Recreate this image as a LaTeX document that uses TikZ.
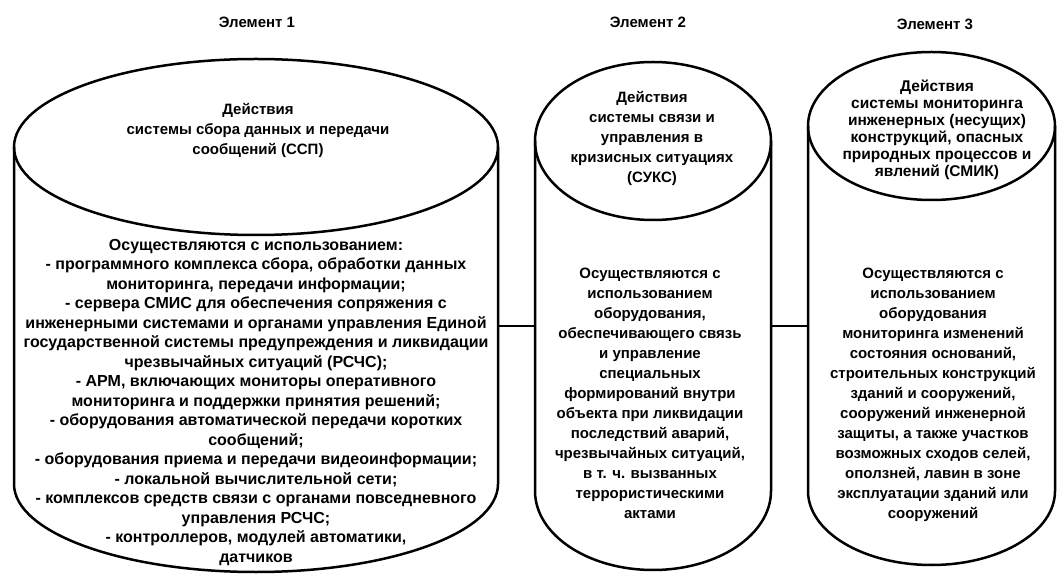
\documentclass[tikz,border=0pt]{standalone}
\usepackage{fontspec}
\setmainfont{Liberation Sans}
\usepackage{tikz}

\begin{document}
\begin{tikzpicture}[scale=0.35146]
\tikzstyle{every node}+=[inner sep=0pt, align=center, font=\bfseries\fontsize{15}{20}\selectfont]
\tikzstyle{cyl}=[black, line width=2.5pt]
\tikzstyle{link}=[black, line width=1.5pt]
\useasboundingbox (0,0) rectangle (105.7,-57.5);
% titles
\node (title1) at (25.7,-2.2) {Элемент 1};
\node (title2) at (64.8,-2.2) {Элемент 2};
\node (title3) at (93.5,-2.4) {Элемент 3};
% element 1
\draw [cyl] (25.6,-14.7) ellipse (24.2 and 8.8);
\draw [cyl] (1.4,-14.7) -- (1.4,-48.4) arc (180:360:24.2 and 8.8) -- (49.8,-14.7);
\coordinate (e1r) at (49.8,-32.6);
\node (top1) at (25.8,-13.0) {Действия\\системы сбора данных и передачи\\сообщений (ССП)};
\node (body1) at (25.6,-40.25) [font=\bfseries\fontsize{16}{19.5}\selectfont] {Осуществляются с использованием:\\
- программного комплекса сбора, обработки данных\\
мониторинга, передачи информации;\\
- сервера СМИС для обеспечения сопряжения с\\
инженерными системами и органами управления Единой\\
государственной системы предупреждения и ликвидации\\
чрезвычайных ситуаций (РСЧС);\\
- АРМ, включающих мониторы оперативного\\
мониторинга и поддержки принятия решений;\\
- оборудования автоматической передачи коротких\\
сообщений;\\
- оборудования приема и передачи видеоинформации;\\
- локальной вычислительной сети;\\
- комплексов средств связи с органами повседневного\\
управления РСЧС;\\
- контроллеров, модулей автоматики,\\
датчиков};
% element 2
\draw [cyl] (65.3,-14.1) ellipse (11.8 and 7.9);
\draw [cyl] (53.5,-14.1) -- (53.5,-49.1) arc (180:360:11.8 and 7.9) -- (77.1,-14.1);
\coordinate (e2l) at (53.5,-32.6);
\coordinate (e2r) at (77.1,-32.6);
\node (top2) at (65.2,-13.8) {Действия\\системы связи и\\управления в\\кризисных ситуациях\\(СУКС)};
\node (body2) at (65.0,-39.3) {Осуществляются с\\использованием\\оборудования,\\обеспечивающего связь\\и управление\\специальных\\формирований внутри\\объекта при ликвидации\\последствий аварий,\\чрезвычайных ситуаций,\\в т. ч. вызванных\\террористическими\\актами};
% element 3
\draw [cyl] (93.15,-12.6) ellipse (12.35 and 7.4);
\draw [cyl] (80.8,-12.6) -- (80.8,-49.1) arc (180:360:12.35 and 7.4) -- (105.5,-12.6);
\coordinate (e3l) at (80.8,-32.6);
\node (top3) at (93.7,-13.0) [font=\bfseries\fontsize{15.5}{17}\selectfont] {Действия\\системы мониторинга\\инженерных (несущих)\\конструкций, опасных\\природных процессов и\\явлений (СМИК)};
\node (body3) at (93.3,-39.5) {Осуществляются с\\использованием\\оборудования\\мониторинга изменений\\состояния оснований,\\строительных конструкций\\зданий и сооружений,\\сооружений инженерной\\защиты, а также участков\\возможных сходов селей,\\оползней, лавин в зоне\\эксплуатации зданий или\\сооружений};
% links
\draw [link] (e1r) -- (e2l);
\draw [link] (e2r) -- (e3l);
\end{tikzpicture}
\end{document}
